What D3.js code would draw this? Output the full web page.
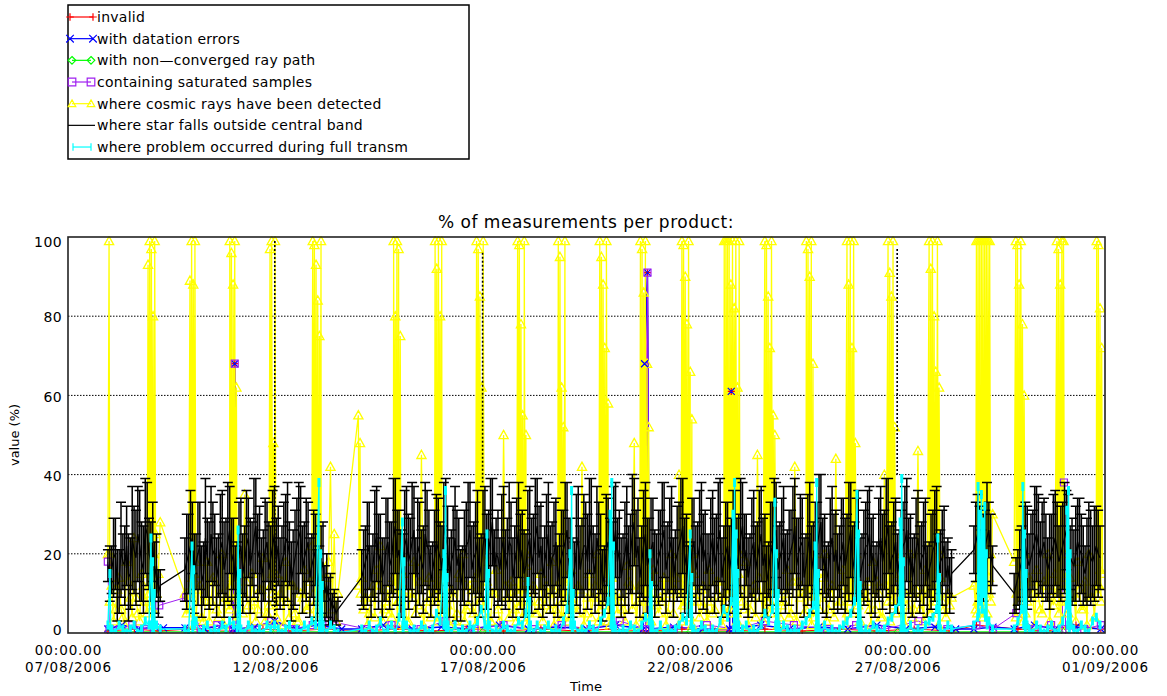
<!DOCTYPE html>
<html><head><meta charset="utf-8">
<script src="https://cdn.jsdelivr.net/npm/d3@7/dist/d3.min.js"></script>
<style>
body{margin:0;background:#fff}
svg{display:block}
text{font-family:"DejaVu Sans",sans-serif;fill:#000}
</style>
</head><body>
<svg id="chart" width="1167" height="696"></svg>
<script>
// ---------------- DATA ----------------
// time axis: days since 07/08/2006 00:00 UTC
const startDate = "2006-08-07";
const endDate = "2006-09-01";
const tickDates = ["2006-08-07","2006-08-12","2006-08-17","2006-08-22","2006-08-27","2006-09-01"];
const yTicks = [0, 20, 40, 60, 80, 100];
const gridValues = [20, 40, 60, 80];

// products are sampled in contiguous data segments (start day, sampling step in days);
// "Mid" arrays hold the products lying halfway between two regular samples
const segStartDay = [0.963, 2.818, 7.081, 21.84, 22.81];
const sampleStepDay = 0.09;
// bursts of closely spaced products (one cluster per pass), step in days
const burstStepDay = 0.02;

// "where star falls outside central band" (black, with error bars)
const starVals = [
 [17,16,20,13,18,22,15,21,25,18,27,20,23,17,12],
 [16,20,24,18,22,15,19,25,21,17,23,19,26,20,16,22,18,24,20,27,21,17,23,19,25,22,18,24,20,16,22,26,19,23,17,21,15,18,12,9,7,6],
 [14,18,22,17,25,20,16,23,19,27, 21,17,24,20,26,22,18,25,21,16, 23,19,27,22,18,24,20,15,22,26, 19,23,17,25,21,28,20,16,24,19,
  22,18,26,21,17,24,20,27,22,18, 25,19,23,17,21,26,20,16,24,19, 22,27,18,24,20,15,23,19,26,21, 17,24,20,28,22,18,25,19,23,17,
  21,26,19,24,18,22,27,20,16,23, 19,25,21,17,24,20,26,18,22,19, 24,20,27,21,17,23,19,25,20,16, 22,26,19,24,18,21,27,20,23,17,
  25,19,22,28,20,16,24,21,18,23, 20,26,19,23,17,22,25,20,16,24, 21,27,19,23,18,22,26,20,17,24, 19,23,16,21,25,18,22,17,15],
 [21,25,18,22,26,17],
 [10,14,18,22,17,21,25,19,23,16,20,24,18,22,26,19,17,23,20,15,21,18,22,19]
];
const starErr = [
 [4,6,9,8,7,10,9,11,12,10,12,9,10,8,4],
 [8,10,9,7,11,8,10,12,9,8,13,10,11,9,7,12,9,10,8,12,11,9,10,8,12,10,9,11,8,10,12,11,9,10,8,9,7,10,8,6,4,3],
 [7,9,11,8,12,10,8,11,9,12, 10,8,13,9,11,12,8,13,10,7, 12,9,11,10,8,13,9,7,11,12, 9,13,8,12,10,11,9,8,13,10,
  11,9,12,10,8,13,10,12,11,9, 13,9,11,8,10,12,9,7,13,10, 11,12,9,13,10,7,11,9,12,10, 8,13,10,11,12,9,13,10,11,8,
  10,12,9,13,8,11,12,10,7,11, 9,13,10,8,12,10,13,9,11,10, 12,10,11,9,8,13,9,12,10,7, 11,12,9,13,8,10,12,9,11,8,
  13,9,11,12,10,7,13,10,9,11, 10,12,9,13,8,11,12,10,7,13, 10,12,9,11,8,11,13,10,8,12, 9,11,7,10,12,8,10,7,6],
 [6,10,8,9,7,5],
 [5,7,9,11,8,10,12,9,11,8,10,12,9,11,10,8,9,11,10,7,12,9,10,8]
];
const starMidVals = [
 [15,19,12,21,17,14,24,19,22,16,25,18,14,10],
 [18,22,15,20,13,24,17,20,14,21,16,23,18,13,20,15,22,17,24,19,14,21,16,22,18,15,20,23,13,19,24,16,21,14,19,12,16,10,8,6,5],
 [16,20,13,22,18,14,21,17,24,19, 15,22,18,23,14,20,16,22,13,19, 21,16,24,14,20,17,12,19,23,16, 20,14,22,18,24,15,19,21,16,23,
  14,21,18,15,22,17,24,19,14,21, 16,20,13,19,23,17,14,21,16,22, 18,24,15,20,12,21,17,22,18,14, 20,16,25,19,14,22,17,21,15,19,
  23,16,21,14,20,24,17,13,21,16, 22,18,15,21,17,23,14,20,16,22, 17,24,18,14,21,16,22,17,13,20, 24,16,21,15,19,23,17,22,14,21,
  16,20,25,17,13,21,18,15,20,17, 23,16,21,14,19,22,17,13,21,18, 24,16,20,15,19,23,17,14,21,16, 20,13,18,22,15,19,14,12],
 [23,20,19,24,20],
 [12,16,20,19,19,23,22,21,19,18,22,21,20,24,22,18,20,21,17,18,19,20,20]
];
const starMidErr = [
 [7,10,9,12,10,11,13,12,14,11,13,10,9,6],
 [12,14,10,13,9,15,11,13,10,14,12,15,11,9,13,10,14,12,15,11,10,13,12,14,11,9,13,15,10,12,14,11,13,10,12,9,11,7,6,4,3],
 [10,13,9,14,12,10,13,11,15,12, 11,14,12,15,10,13,11,14,9,12, 13,11,15,10,12,14,9,12,15,11, 13,10,14,12,15,11,12,14,10,15,
  10,13,12,11,14,12,15,13,10,14, 11,13,9,12,15,12,10,14,11,13, 12,15,10,13,9,14,12,15,11,10, 13,11,15,12,10,14,12,13,11,12,
  15,11,13,10,12,15,12,9,13,11, 14,12,10,13,12,15,10,13,11,14, 12,15,12,10,13,11,14,12,9,13, 15,11,13,10,12,14,12,13,10,14,
  11,13,15,12,9,13,12,10,14,12, 15,11,13,10,12,14,12,9,13,12, 15,11,13,10,12,14,12,10,13,11, 13,9,12,14,10,12,9,7],
 [10,12,11,14,10],
 [7,10,12,13,11,14,13,12,11,12,13,12,12,14,13,11,12,13,10,11,12,12,11]
];
// isolated excursions of the black series (day, top, bottom)
const starSpikeDay = [4.985, 9.995, 19.99];
const starSpikeTop = [99, 96, 97];
const starSpikeBottom = [2, 38, 40];

// "where cosmic rays have been detected" (yellow): regular products
const cosmicVals = [
 [20,12,6,14,4,18,9,24,5,15,8,12,6,10,28],
 [10,6,14,4,12,3,18,8,13,4,20,9,6,14,5,10,35,7,15,3,11,19,5,12,3,9,13,18,4,12,3,10,16,6,22,8,5,12,14,42,25,10],
 [14,9,5,12,16,22,6,11,4,13, 8,15,3,10,18,7,45,5,14,9, 12,4,16,7,11,3,15,20,6,12, 5,14,8,18,4,10,16,3,50,9,
  13,6,11,4,17,8,12,5,15,7, 10,18,6,13,4,9,16,7,12,42, 5,15,9,20,6,11,3,14,8,10, 6,17,12,48,8,13,4,10,16,7,
  9,14,5,20,11,40,7,12,4,15, 8,11,6,16,5,13,9,4,12,7, 15,10,8,18,6,12,45,9,5,14, 7,11,4,8,16,5,42,13,10,6,
  12,4,15,9,20,6,12,44,8,16, 5,10,14,7,11,9,6,18,13,4, 40,8,12,5,15,11,7,20,6,46, 10,16,5,12,8,14,6,10,9],
 [12,8,15,10,14,30],
 [18,8,12,5,14,10,16,6,13,20,9,15,5,11,8,14,10,18,6,13,20,9,12,16]
];
const cosmicMidVals = [
 [8,3,11,6,2,13,4,9,3,12,5,7,2,15],
 [5,9,2,11,4,8,3,14,6,10,2,7,12,3,9,5,13,2,8,6,11,3,7,15,4,10,2,8,12,5,3,9,6,13,2,7,10,4,18,6,3],
 [6,2,9,4,12,3,8,5,14,2, 7,11,3,9,5,13,2,8,4,10, 3,12,6,2,9,5,14,3,7,11, 2,8,5,13,3,10,6,2,12,4,
  9,3,7,14,2,11,5,8,3,12, 6,2,10,4,13,3,8,5,11,2, 9,4,12,3,7,14,2,10,5,8, 3,13,6,2,11,4,9,3,12,5,
  8,2,10,5,14,3,7,11,2,9, 4,12,3,8,6,13,2,10,5,7, 3,11,6,2,9,4,14,3,8,5, 12,2,7,10,4,13,3,9,5,11,
  2,8,6,14,3,10,4,7,12,2, 9,5,11,3,8,13,2,6,10,4, 12,3,7,5,14,2,9,4,11,6, 3,10,5,13,2,8,4,7],
 [6,10,4,12,8],
 [4,11,3,8,13,2,9,5,12,3,7,10,2,14,5,8,3,11,6,2,9,4,12]
];
// cosmic-ray bursts (one per daily pass): start day and successive values
const cosmicBurstStart = [0.99,1.93,2.94,3.9,4.87,5.9,7.0,7.85,8.85,9.85,10.84,11.82,12.82,13.8,14.8,15.82,16.8,17.8,18.78,19.77,20.76,21.9,22.85,23.84,24.8];
const cosmicBurstVals = [
 [99,20],
 [93,10,99,15,97,12,80,20,99,25],
 [89,10,99,12,88,15,99,18],
 [99,12,96,8,88,15,99,20,62,10],
 [97,12,99,10,48,8,99,15],
 [99,10,98,14,93,8,84,15,75,10,99,12],
 [55,12,48,10],
 [99,12,80,10,99,8,97,15,75,20],
 [99,10,92,8,99,15,80,12,99,20],
 [99,15,97,10,85,8,62,12,99,20],
 [99,10,98,12,78,8,55,15,99,10,50,20],
 [99,12,95,10,62,8,52,15,99,12],
 [99,10,95,12,88,8,72,15,99,10,58,20],
 [99,12,97,10,86,8,99,15,68,10,52,20],
 [99,10,98,12,90,8,78,15,99,10,66,12,54,20],
 [99,5,99,8,99,10,99,6,88,12,99,8,82,10,99,5,62,15,99,20],
 [99,10,98,12,85,8,72,15,99,10,55,12,50,20],
 [99,12,97,10,90,8,99,15,68,20],
 [99,10,88,12,99,8,72,15,99,10,48,20],
 [99,12,91,10,85,8,99,15,52,20],
 [99,10,92,12,99,8,80,15,66,10,99,12,62,20],
 [99,5,99,8,99,10,99,6,99,8,99,12,99,5,99,10,99,20],
 [99,10,98,12,88,8,99,15,78,10,60,20],
 [99,12,97,10,88,8,99,15,99,20],
 [99,10,98,12,82,8,72,15]
];

// "where problem occurred during full transm" (cyan): regular products
const transmVals = [
 [2,1,0,2,1,0,1,2,0,1,3,2,1,2,1],
 [1,0,2,3,0,1,2,0,1,0,2,1,3,2,1,1,0,2,1,0,1,0,2,1,2,1,0,1,2,0,1,0,2,1,3,2,1,1,0,2,1,0],
 [1,0,2,0,1,3,0,1,2,0, 4,2,2,0,1,0,2,1,0,1, 5,3,2,1,0,2,0,1,0,2, 1,3,6,2,2,0,1,0,2,1,
  0,1,3,2,5,1,0,2,0,1, 2,0,1,0,3,6,2,2,0,1, 0,2,1,0,3,5,8,3,1,0, 1,0,2,1,0,2,4,3,1,0,
  2,0,1,0,1,2,4,3,5,1, 0,2,1,0,1,0,3,6,4,8, 2,0,1,2,0,1,0,2,5,3, 6,1,0,2,1,0,1,0,2,3,
  5,7,1,0,2,0,1,0,1,2, 3,5,8,2,0,1,0,2,1,0, 1,3,4,6,8,1,0,2,0,1, 0,2,3,4,6,1,0,2,1],
 [2,4,8,5,3,1],
 [1,3,6,3,1,0,2,1,0,1,2,0,1,3,7,4,1,0,2,1,0,3,4,2]
];
const transmBurstStart = [1.01,2.0,2.99,4.1,6.05,8.06,9.06,10.1,11.09,12.1,13.07,14.03,15.0,16.03,17.04,18.01,19.02,20.06,20.97,21.94,23.02,24.08];
const transmBurstVals = [
 [15,1],
 [24,2,18,1,10,2],
 [22,1,16,2],
 [26,2,15,1],
 [38,2,20,1,12,2],
 [28,1,18,2],
 [20,2,36,1,14,2],
 [25,1,15,2],
 [13,1,8,2],
 [20,2,36,1,10,2],
 [30,2,38,1,22,2],
 [20,1,12,2],
 [25,2,14,1],
 [30,1,38,2,25,1,15,2],
 [33,2,20,1,10,2],
 [22,1,38,2,15,1],
 [35,2,25,1,12,2],
 [28,1,39,2,18,1],
 [24,2,14,1],
 [37,5,30,8,35,6,28,10,32,4,20,2],
 [37,2,25,1,15,2],
 [31,2,36,1,20,2]
];

// sparse series (day, value)
const invalidDays = [0.96,1.6,2.2,2.9,3.5,3.98,4.02,4.06,4.7,5.4,6.2,7.1,7.9,8.8,9.6,10.5,11.4,12.3,13.1,13.93,13.97,14.01,14.8,15.6,15.95,15.99,16.03,16.8,17.7,18.6,19.5,20.4,21.3,21.9,22.9,23.6,24.3,24.9];
const invalidVals = [0.5,1,0.5,1,0.5,0.5,68,0.5,1,0.5,1,0.5,1,0.5,1,0.5,1,0.5,1,0.5,91,0.5,1,0.5,0.5,61,0.5,1,0.5,1,0.5,1,0.5,2,1,0.5,2,1];

const datationDays = [0.96,1.3,1.7,2.1,2.3,2.82,3.3,3.7,3.98,4.02,4.06,4.5,4.98,5.5,6.0,6.6,7.08,7.6,8.3,9.0,9.7,10.4,11.1,11.8,12.5,13.2,13.87,13.9,13.97,14.01,14.6,15.3,15.95,15.99,16.03,16.7,17.4,18.1,18.8,19.5,20.2,20.9,21.4,21.84,22.3,22.81,23.3,23.8,24.3,24.9];
const datationVals = [1,2,1,1.5,1.3,1.3,1,2,1,68,1,1.5,3,1,2,1,1,2,1,1.5,1,2,1,1.5,1,2,1,68,91,1,1.5,1,1,61,1,2,1,1.5,1,2,1,1.5,1,1,1.5,1,2,1,1.5,1];

const rayPathDays = [1.0,5.0,10.0,15.0,20.0,24.0];
const rayPathVals = [0.3,0.3,0.3,0.3,0.3,0.3];

const saturatedDays = [0.96,1.0,1.25,1.55,1.9,2.2,2.85,3.2,3.6,3.98,4.02,4.06,4.4,4.9,5.4,5.9,6.3,7.2,7.8,8.5,9.1,9.8,10.5,11.2,11.9,12.6,13.3,13.93,13.97,14.01,14.6,15.4,16.1,16.8,17.5,18.3,19.0,19.7,20.5,21.2,21.9,22.3,22.86,23.3,23.7,23.97,24.01,24.05,24.5,24.9];
const saturatedVals = [18,1,1,2,1,7,9,1,2,1,68,1,1,3,1,2,3,1,2,1,3,1,2,1,2,1,3,1,91,1,1,2,1,3,2,1,2,1,3,1,2,1,5,1,2,1,38,1,1,2];

const legendLabels = ["invalid","with datation errors","with non\u2014converged ray path","containing saturated samples","where cosmic rays have been detected","where star falls outside central band","where problem occurred during full transm"];
const legendColors = ["#ff0000","#0000ff","#00ff00","#a020f0","#ffff00","#000000","#00ffff"];
const legendSymbols = ["plus","cross","diamond","square","triangle","none","bar"];

// ---------------- DRAW ----------------
const svg = d3.select("#chart");
const P = {l: 68, r: 1105, t: 237, b: 633};
const DAY = 864e5;
const T0 = Date.parse(startDate + "T00:00:00Z");
const toDate = d => new Date(T0 + d * DAY);

const x = d3.scaleUtc().domain([new Date(startDate + "T00:00:00Z"), new Date(endDate + "T00:00:00Z")]).range([P.l, P.r]);
const y = d3.scaleLinear().domain([0, 100]).range([P.b, P.t]);

function seg(vals, extra, offset) {
  const out = [];
  vals.forEach((arr, s) => arr.forEach((v, i) => {
    const o = {t: toDate(segStartDay[s] + (i + (offset || 0)) * sampleStepDay), v};
    if (extra) o.e = extra[s][i];
    out.push(o);
  }));
  return out;
}
function bursts(starts, vals) {
  const out = [];
  vals.forEach((arr, k) => arr.forEach((v, i) => out.push({t: toDate(starts[k] + i * burstStepDay), v})));
  return out;
}
const byTime = (a, b) => a.t - b.t;
const sparse = (days, vals) => days.map((d, i) => ({t: toDate(d), v: vals[i]}));

const star = seg(starVals, starErr).concat(seg(starMidVals, starMidErr, 0.5)).sort(byTime);
const cosmic = seg(cosmicVals).concat(seg(cosmicMidVals, null, 0.5), bursts(cosmicBurstStart, cosmicBurstVals)).sort(byTime);
const transm = seg(transmVals).concat(bursts(transmBurstStart, transmBurstVals)).sort(byTime);
const invalid = sparse(invalidDays, invalidVals);
const datation = sparse(datationDays, datationVals);
const rayPath = sparse(rayPathDays, rayPathVals);
const saturated = sparse(saturatedDays, saturatedVals);

function symPath(type, cx, cy, s) {
  switch (type) {
    case "plus": return `M${cx-s},${cy}H${cx+s}M${cx},${cy-s}V${cy+s}`;
    case "cross": return `M${cx-s},${cy-s}L${cx+s},${cy+s}M${cx-s},${cy+s}L${cx+s},${cy-s}`;
    case "diamond": return `M${cx},${cy-s}L${cx+s},${cy}L${cx},${cy+s}L${cx-s},${cy}Z`;
    case "square": return `M${cx-s},${cy-s}H${cx+s}V${cy+s}H${cx-s}Z`;
    case "triangle": return `M${cx},${cy-s}L${cx+s},${cy+s*0.8}L${cx-s},${cy+s*0.8}Z`;
    case "bar": return `M${cx},${cy-s}V${cy+s}`;
    default: return "";
  }
}

svg.append("defs").append("clipPath").attr("id", "plotclip")
  .append("rect").attr("x", P.l).attr("y", P.t - 1).attr("width", P.r - P.l).attr("height", P.b - P.t + 2);

// grid
svg.append("g").selectAll("line").data(gridValues).join("line")
  .attr("x1", P.l).attr("x2", P.r).attr("y1", d => y(d)).attr("y2", d => y(d))
  .attr("stroke", "#000").attr("stroke-width", 1).attr("stroke-dasharray", "1.5,1.5");

const plot = svg.append("g").attr("clip-path", "url(#plotclip)");
const line = d3.line().x(d => x(d.t)).y(d => y(d.v));

function drawLine(data, color, lw) {
  plot.append("path").datum(data).attr("d", line).attr("fill", "none").attr("stroke", color).attr("stroke-width", lw);
}
function drawMarks(data, color, sym, size, sw) {
  plot.append("path").attr("d", data.map(d => symPath(sym, x(d.t), y(d.v), size)).join(""))
    .attr("fill", "none").attr("stroke", color).attr("stroke-width", sw);
}

// sparse series lines (below the cosmic-ray series)
drawLine(invalid, "#ff0000", 1);
drawLine(datation, "#0000ff", 1.5);
drawLine(rayPath, "#00ff00", 1);
drawLine(saturated, "#a020f0", 1);
// cosmic rays (yellow)
drawLine(cosmic, "#ffff00", 1.3);
drawMarks(cosmic, "#ffff00", "triangle", 4.6, 1.3);
// sparse series symbols
drawMarks(invalid, "#ff0000", "plus", 3.5, 1.2);
drawMarks(datation, "#0000ff", "cross", 3.5, 1.2);
drawMarks(rayPath, "#00ff00", "diamond", 3.5, 1);
drawMarks(saturated, "#a020f0", "square", 3.5, 1.2);

// star outside band (black) with error bars
const gs = plot.append("g");
gs.append("path").datum(star).attr("d", line).attr("fill", "none").attr("stroke", "#000").attr("stroke-width", 1.3);
gs.append("path").attr("d", star.map(d => {
  const cx = x(d.t), y1 = y(d.v + d.e), y0 = y(Math.max(0, d.v - d.e));
  return `M${cx},${y0}V${y1}`;
}).join("")).attr("fill", "none").attr("stroke", "#000").attr("stroke-width", 1.5);
gs.append("path").attr("d", star.map(d => {
  const cx = x(d.t), y1 = y(d.v + d.e), y0 = y(Math.max(0, d.v - d.e));
  return `M${cx-5},${y1}H${cx+5}M${cx-5},${y0}H${cx+5}`;
}).join("")).attr("fill", "none").attr("stroke", "#000").attr("stroke-width", 1.5);
gs.selectAll("line.spike").data(starSpikeDay).join("line").attr("class", "spike")
  .attr("x1", d => x(toDate(d))).attr("x2", d => x(toDate(d)))
  .attr("y1", (d, i) => y(starSpikeTop[i])).attr("y2", (d, i) => y(starSpikeBottom[i]))
  .attr("stroke", "#000").attr("stroke-width", 1.6).attr("stroke-dasharray", "2,2");

// full transm problems (cyan)
drawLine(transm, "#00ffff", 1.4);
drawMarks(transm, "#00ffff", "bar", 4.5, 3);

// axes frame
svg.append("rect").attr("x", P.l).attr("y", P.t).attr("width", P.r - P.l).attr("height", P.b - P.t)
  .attr("fill", "none").attr("stroke", "#222").attr("stroke-width", 1.6);

// y axis
const yAxis = svg.append("g").attr("transform", `translate(${P.l},0)`)
  .call(d3.axisLeft(y).tickValues(yTicks).tickSize(0).tickPadding(6));
yAxis.select(".domain").remove();
yAxis.selectAll("text").style("font-family", '"DejaVu Sans",sans-serif').style("font-size", "14px")
  .style("letter-spacing", "0.4px")
  .attr("dy", d => d === 100 ? "0.7em" : d === 0 ? "0.1em" : "0.4em");

// x axis: two separate label lines per tick
const xAxis = svg.append("g").attr("transform", `translate(0,${P.b})`)
  .call(d3.axisBottom(x).tickValues(tickDates.map(s => new Date(s + "T00:00:00Z"))).tickSize(0).tickFormat(""));
xAxis.select(".domain").remove();
const fTime = d3.utcFormat("%H:%M.%S"), fDate = d3.utcFormat("%d/%m/%Y");
xAxis.selectAll(".tick").each(function(d) {
  const g = d3.select(this);
  g.append("text").attr("text-anchor", "middle").attr("y", 22).style("font-size", "13.5px")
    .style("letter-spacing", "0.9px").attr("fill", "#000").text(fTime(d));
  g.append("text").attr("text-anchor", "middle").attr("y", 39).style("font-size", "13.5px")
    .style("letter-spacing", "0.9px").attr("fill", "#000").text(fDate(d));
});

// titles
svg.append("text").attr("x", 586).attr("y", 228).attr("text-anchor", "middle").style("font-size", "17px")
  .style("letter-spacing", "0.5px").text("% of measurements per product:");
svg.append("text").attr("x", 586).attr("y", 691).attr("text-anchor", "middle").style("font-size", "13px").text("Time");
svg.append("text").attr("transform", "translate(19,435) rotate(-90)").attr("text-anchor", "middle").style("font-size", "13px").text("value (%)");

// legend
const lg = svg.append("g");
lg.append("rect").attr("x", 68).attr("y", 5).attr("width", 401).attr("height", 154)
  .attr("fill", "#fff").attr("stroke", "#000").attr("stroke-width", 1.5);
legendLabels.forEach((lab, i) => {
  const cy = 17 + i * 21.67;
  const c = legendColors[i], s = legendSymbols[i];
  let x0 = 70, x1 = 93;
  if (s === "none") { x0 = 68; x1 = 95; }
  if (s === "bar") { x0 = 73; x1 = 91; }
  if (s === "diamond" || s === "square" || s === "triangle") { x0 = 72; x1 = 91; }
  lg.append("line").attr("x1", x0).attr("x2", x1).attr("y1", cy).attr("y2", cy).attr("stroke", c).attr("stroke-width", 1.2);
  if (s !== "none") {
    lg.append("path").attr("d", symPath(s, x0, cy, 3.8) + symPath(s, x1, cy, 3.8))
      .attr("fill", "none").attr("stroke", c).attr("stroke-width", 1.2);
  }
  lg.append("text").attr("x", 97).attr("y", cy).attr("dy", "0.35em").style("font-size", "14px")
    .style("letter-spacing", "0.25px").text(lab);
});
</script>
</body></html>
